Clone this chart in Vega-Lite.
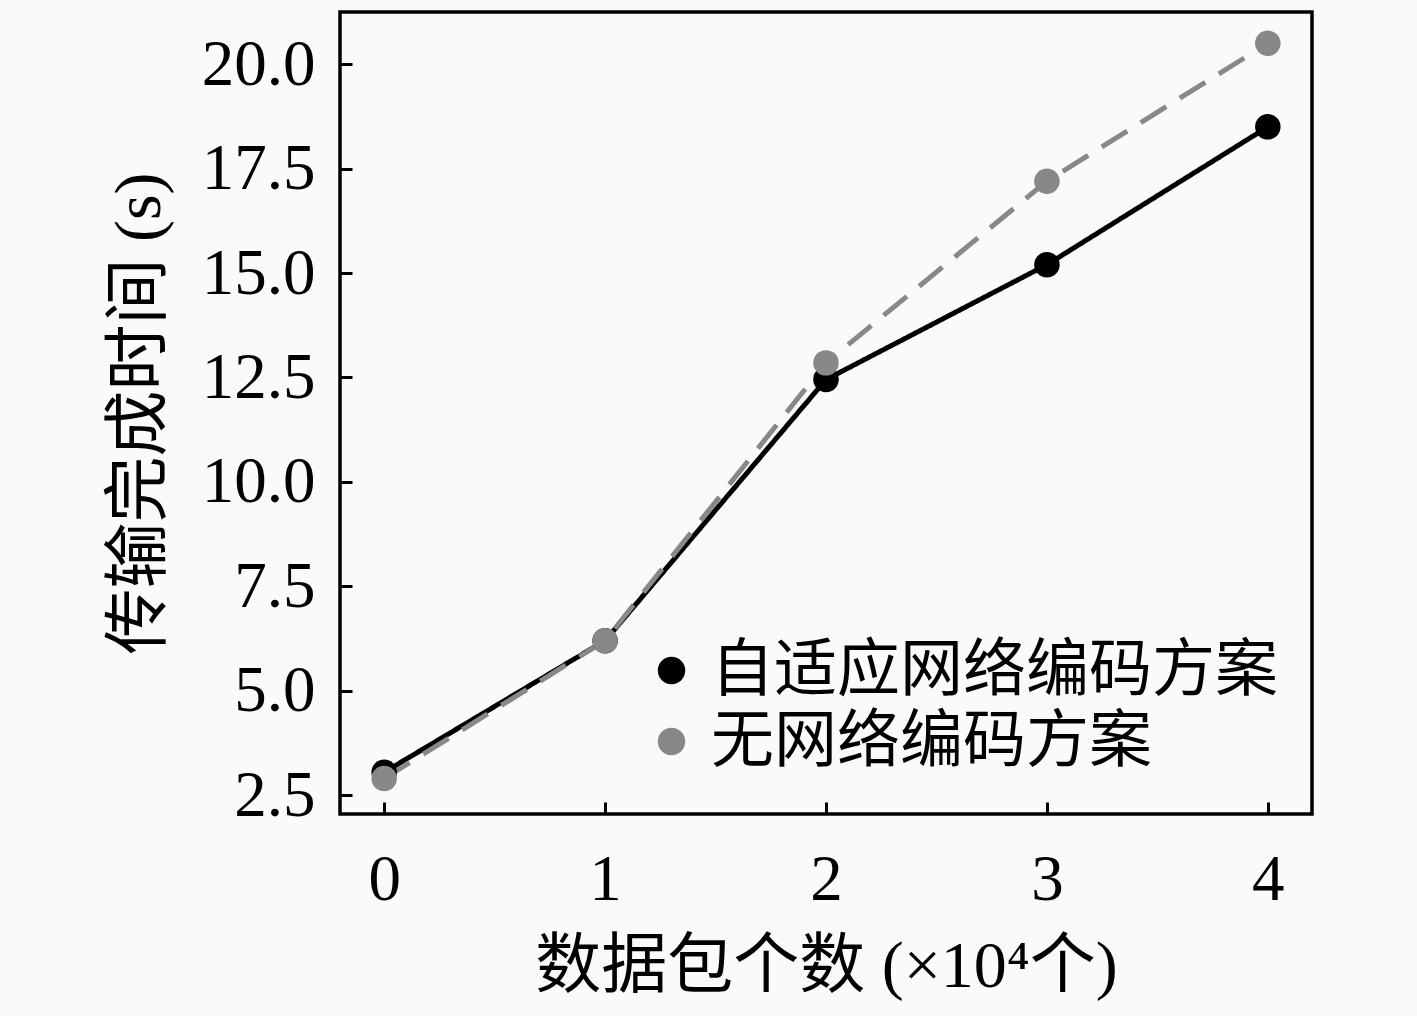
{
  "$schema": "https://vega.github.io/schema/vega-lite/v6.json",
  "autosize": "none",
  "width": 972,
  "height": 802,
  "padding": {"left": 340, "top": 12, "right": 105, "bottom": 202},
  "background": "#fafafa",
  "config": {
    "view": {"stroke": "black", "strokeWidth": 3.5},
    "font": "Liberation Serif, Noto Sans CJK SC",
    "axis": {
      "domain": false,
      "grid": false,
      "tickSize": -12,
      "tickWidth": 3,
      "tickColor": "black",
      "labelFont": "Liberation Serif",
      "labelFontSize": 65,
      "labelColor": "black",
      "titleFont": "Liberation Serif, Noto Sans CJK SC",
      "titleFontSize": 66,
      "titleFontWeight": "normal",
      "titleColor": "black"
    },
    "legend": {
      "labelFont": "Noto Sans CJK SC",
      "labelFontSize": 63,
      "labelColor": "black",
      "labelLimit": 0
    }
  },
  "data": {
    "values": [
      {"x": 0, "y": 3.05, "s": "自适应网络编码方案"},
      {"x": 1, "y": 6.2, "s": "自适应网络编码方案"},
      {"x": 2, "y": 12.45, "s": "自适应网络编码方案"},
      {"x": 3, "y": 15.2, "s": "自适应网络编码方案"},
      {"x": 4, "y": 18.5, "s": "自适应网络编码方案"},
      {"x": 0, "y": 2.9, "s": "无网络编码方案"},
      {"x": 1, "y": 6.2, "s": "无网络编码方案"},
      {"x": 2, "y": 12.85, "s": "无网络编码方案"},
      {"x": 3, "y": 17.2, "s": "无网络编码方案"},
      {"x": 4, "y": 20.5, "s": "无网络编码方案"}
    ]
  },
  "encoding": {
    "x": {
      "field": "x", "type": "quantitative",
      "scale": {"domain": [-0.2, 4.2], "nice": false, "zero": false},
      "axis": {"values": [0, 1, 2, 3, 4], "format": "d", "labelPadding": 46, "title": "数据包个数 (×10⁴个)", "titlePadding": 22}
    },
    "y": {
      "field": "y", "type": "quantitative",
      "scale": {"domain": [2.05, 21.25], "nice": false, "zero": false},
      "axis": {"values": [2.5, 5, 7.5, 10, 12.5, 15, 17.5, 20], "format": ".1f", "labelPadding": 37, "title": "传输完成时间 (s)", "titlePadding": 28}
    },
    "color": {
      "field": "s", "type": "nominal",
      "scale": {"domain": ["自适应网络编码方案", "无网络编码方案"], "range": ["black", "#888888"]},
      "legend": {
        "title": null,
        "orient": "none",
        "legendX": 300,
        "legendY": 627,
        "padding": 0,
        "symbolType": "circle",
        "symbolSize": 750,
        "symbolStrokeWidth": 0,
        "symbolOpacity": 1,
        "labelOffset": 8,
        "rowPadding": 7
      }
    }
  },
  "layer": [
    {
      "mark": {"type": "line", "strokeWidth": 5},
      "encoding": {
        "strokeDash": {
          "field": "s", "type": "nominal",
          "scale": {"domain": ["自适应网络编码方案", "无网络编码方案"], "range": [[1, 0], [30, 16]]},
          "legend": null
        }
      }
    },
    {
      "mark": {"type": "point", "filled": true, "opacity": 1, "size": 650, "shape": "circle"},
      "encoding": {}
    }
  ]
}
